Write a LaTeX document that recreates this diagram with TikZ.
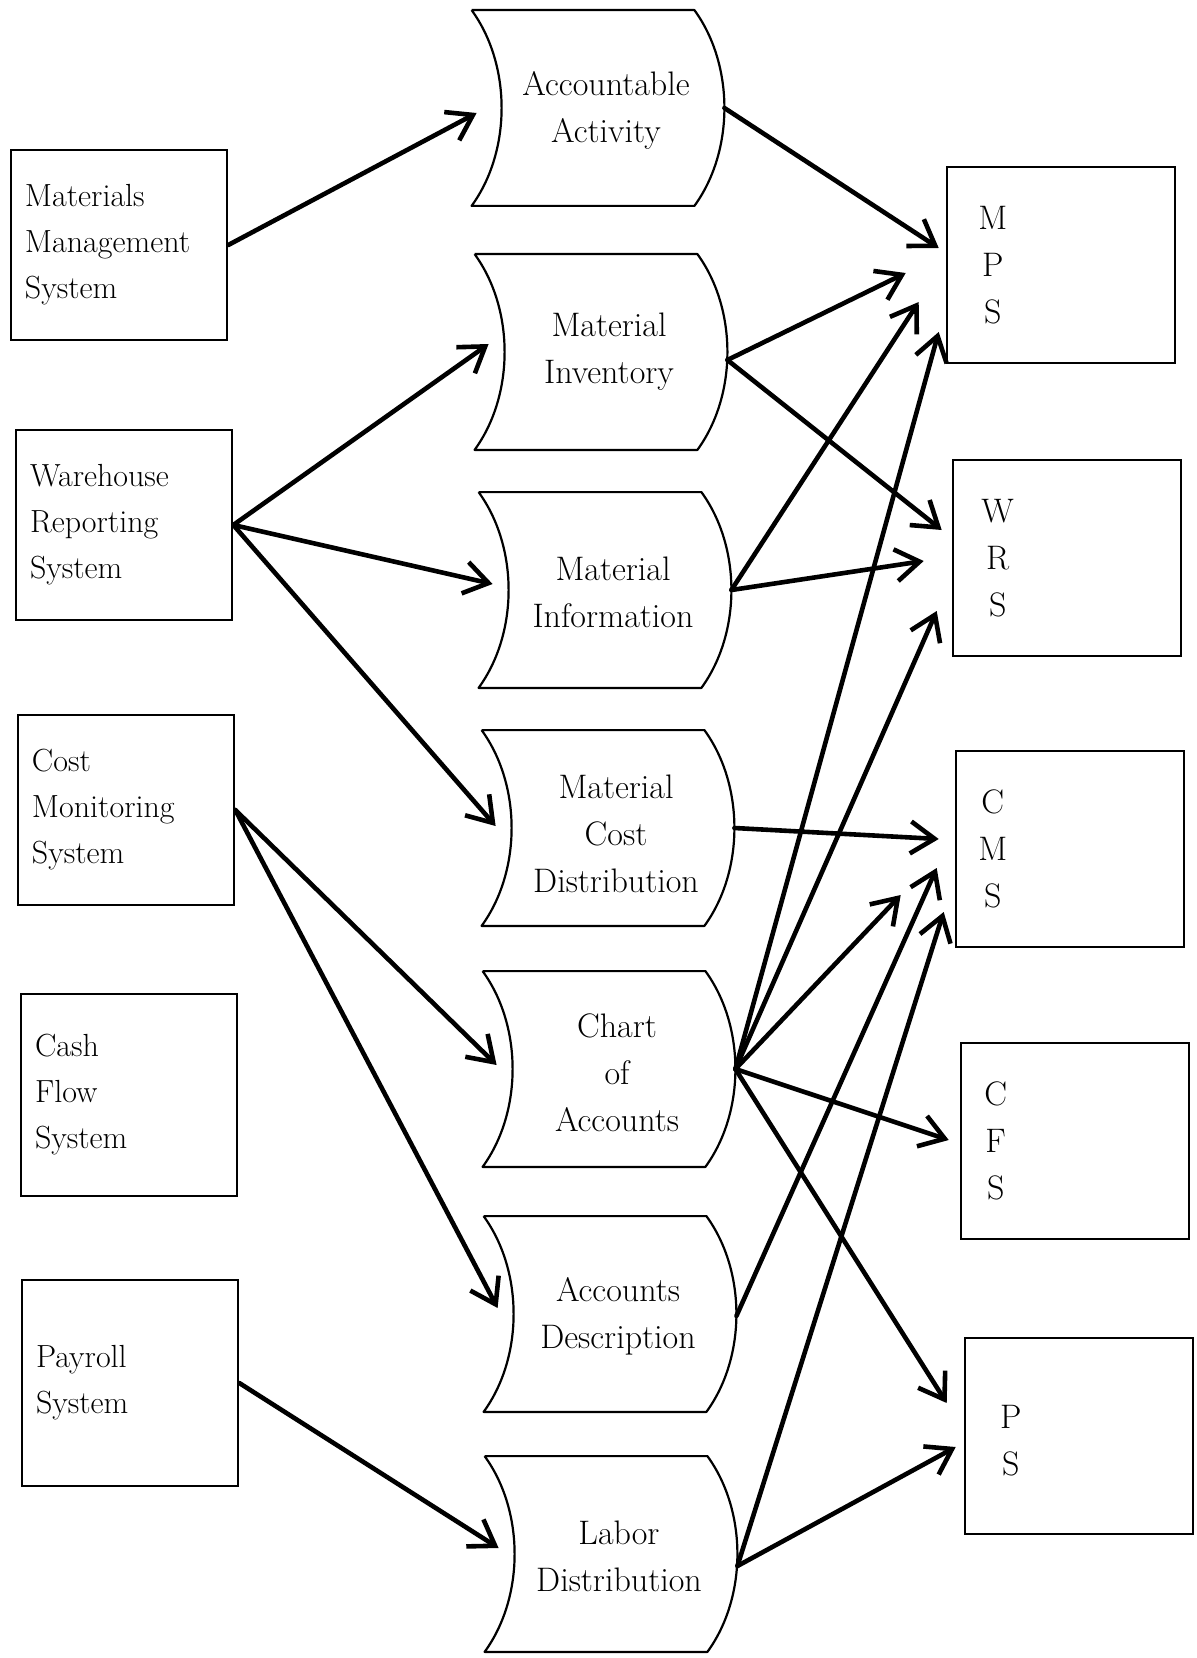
\documentclass[tikz,border=0pt]{standalone}
\usepackage{fontspec}
\usetikzlibrary{arrows.meta}
\newcommand\inkfont{\addfontfeatures{FakeBold=1}}

\begin{document}
\begin{tikzpicture}[x=0.5pt, y=-0.5pt,
    sysbox/.style={draw, line width=1.3pt, minimum width=108pt, minimum height=95pt,
      text width=94pt, inner xsep=7pt, align=left, font=\fontsize{16}{23}\selectfont\inkfont},
    store/.style={minimum width=111pt, minimum height=97.5pt, inner sep=0pt,
      align=center, font=\fontsize{17}{23.5}\selectfont\inkfont},
    sink/.style={draw, line width=1.3pt, minimum width=114pt, minimum height=98pt},
    letters/.style={align=center, font=\fontsize{17}{23.5}\selectfont\inkfont},
    sheet/.style={line width=1.1pt, line join=round},
    flow/.style={line width=2.3pt, line cap=round, line join=round,
      -{Straight Barb[length=12pt,width=16pt]}}]
  \path[use as bounding box, fill=white] (0,0) rectangle (1196,1658);

  % source systems
  \node[sysbox] (matmgmt) at (119,245) {Materials\\Management\\System};
  \node[sysbox] (whrep) at (124,525) {Warehouse\\Reporting\\System};
  \node[sysbox] (costmon) at (126,810) {Cost\\Monitoring\\System};
  \node[sysbox, minimum height=101pt] (cashflow) at (129,1095) {Cash\\Flow\\System};
  \node[sysbox, minimum height=103pt] (payroll) at (130,1383) {Payroll\\System};

  % data files
  \node[store] (acct) at (606,110) {Accountable\\Activity};
  \node[store] (minv) at (609,352) {Material\\Inventory};
  \node[store] (minfo) at (613,592) {Material\\Information};
  \node[store] (mcd) at (616,834) {Material\\Cost\\Distribution};
  \node[store] (coa) at (617,1073) {Chart\\of\\Accounts};
  \node[store] (adesc) at (618,1316) {Accounts\\Description};
  \node[store] (labor) at (619,1556) {Labor\\Distribution};
  \foreach \s/\y in {acct/-2,minv/0,minfo/-2,mcd/-6,coa/-4,adesc/-2,labor/-2}
    \draw[sheet] ([shift={(-23,\y)}]\s.north west) -- ([shift={(-23,\y)}]\s.north east)
      .. controls +(40,55) and +(40,-55) .. ([shift={(-23,\y)}]\s.south east)
      -- ([shift={(-23,\y)}]\s.south west)
      .. controls +(40,-55) and +(40,55) .. ([shift={(-23,\y)}]\s.north west);

  % target systems
  \node[sink] (mps) at (1061,265) {};
  \node[sink] (wrs) at (1067,558) {};
  \node[sink] (cms) at (1070,849) {};
  \node[sink] (cfs) at (1075,1141) {};
  \node[sink] (ps) at (1079,1436) {};
  \node[letters] (mps-l) at ([shift={(47,0)}]mps.west) {M\\P\\S};
  \node[letters] (wrs-l) at ([shift={(46,0)}]wrs.west) {W\\R\\S};
  \node[letters] (cms-l) at ([shift={(38,0)}]cms.west) {C\\M\\S};
  \node[letters] (cfs-l) at ([shift={(36,0)}]cfs.west) {C\\F\\S};
  \node[letters] (ps-l) at ([shift={(47,5)}]ps.west) {P\\S};

  % systems -> files
  \draw[flow] (matmgmt.east) -- ([shift={(-18,3)}]acct.west);
  \foreach \a/\b in {whrep/minv,whrep/minfo,whrep/mcd,costmon/coa,costmon/adesc,payroll/labor}
    \draw[flow] (\a.east) -- ([shift={(-9,-8)}]\b.west);

  % files -> systems
  \draw[flow] ([shift={(7,-2)}]acct.east) -- ([shift={(-7,-17)}]mps.west);
  \draw[flow] ([shift={(7,8)}]minv.east) -- ([shift={(-40,8)}]mps.west);
  \draw[flow] ([shift={(7,8)}]minv.east) -- ([shift={(-10,-28)}]wrs.west);
  \draw[flow] ([shift={(7,-2)}]minfo.east) -- ([shift={(-27,37)}]mps.west);
  \draw[flow] ([shift={(7,-2)}]minfo.east) -- ([shift={(-28,3)}]wrs.west);
  \draw[flow] ([shift={(7,-6)}]mcd.east) -- ([shift={(-16,-10)}]cms.west);
  \draw[flow] ([shift={(7,-4)}]coa.east) -- ([shift={(-7,67)}]mps.west);
  \draw[flow] ([shift={(7,-4)}]coa.east) -- ([shift={(-15,53)}]wrs.west);
  \draw[flow] ([shift={(7,-4)}]coa.east) -- ([shift={(-54,46)}]cms.west);
  \draw[flow] ([shift={(7,-4)}]coa.east) -- ([shift={(-11,-1)}]cfs.west);
  \draw[flow] ([shift={(7,-4)}]coa.east) -- ([shift={(-17,-33)}]ps.west);
  \draw[flow] ([shift={(7,0)}]adesc.east) -- ([shift={(-18,19)}]cms.west);
  \draw[flow] ([shift={(7,10)}]labor.east) -- ([shift={(-11,63)}]cms.west);
  \draw[flow] ([shift={(7,10)}]labor.east) -- ([shift={(-8,11)}]ps.west);
\end{tikzpicture}
\end{document}
